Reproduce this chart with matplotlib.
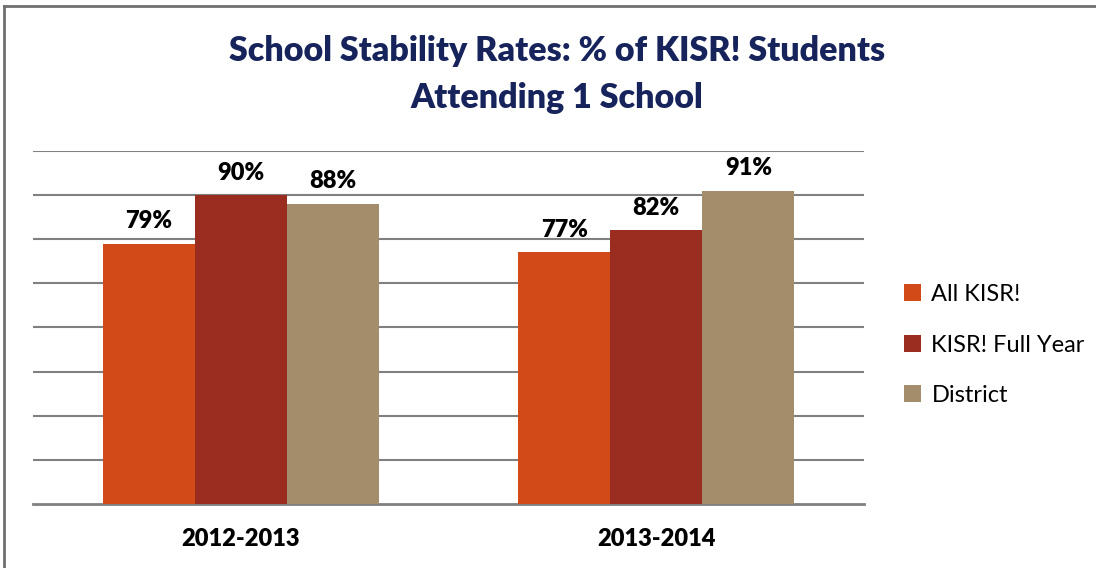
import matplotlib
matplotlib.use('Agg')
import matplotlib.pyplot as plt
from matplotlib.lines import Line2D
import numpy as np

# data
years = ['2012-2013', '2013-2014']
series_names = ['All KISR!', 'KISR! Full Year', 'District']
all_kisr = [79, 77]
full_year = [90, 82]
district = [88, 91]
colors = ['#D24A18', '#9A2C20', '#A48D6B']

plt.rcParams['font.family'] = ['Lato', 'DejaVu Sans']

fig = plt.figure(figsize=(10.96, 5.68), dpi=100)
ax = fig.add_axes([33 / 1096, 1 - 504 / 568, (864 - 33) / 1096, (504 - 151) / 568])

x = np.arange(len(years))
w = 0.2215
for i, (vals, name) in enumerate(zip([all_kisr, full_year, district], series_names)):
    pos = x + (i - 1) * w
    ax.bar(pos, vals, width=w, color=colors[i], label=name, zorder=3)
    for p, v in zip(pos, vals):
        ax.text(p, v + 2.6, f'{v}%', ha='center', va='bottom',
                fontsize=17, fontweight='heavy', color='black')

ax.set_xlim(-0.5, 1.5)
ax.set_ylim(20, 100)
ax.set_yticks(np.arange(30, 101, 10))
ax.yaxis.grid(True, color='#808080', linewidth=1.5, zorder=0)
ax.set_yticklabels([])
ax.tick_params(axis='y', length=0)
ax.set_xticks(x)
ax.set_xticklabels(years, fontsize=17, fontweight='heavy')
ax.tick_params(axis='x', length=0, pad=17)
for s in ['top', 'right', 'left']:
    ax.spines[s].set_visible(False)
ax.spines['bottom'].set_color('#808080')
ax.spines['bottom'].set_linewidth(2)

title_kw = dict(ha='center', va='center', fontsize=24.5, fontweight='heavy', color='#17245C')
fig.text(557 / 1096, 1 - 51 / 568, 'School Stability Rates: % of KISR! Students', **title_kw)
fig.text(557 / 1096, 1 - 98 / 568, 'Attending 1 School', **title_kw)

fig.legend(loc='center left', bbox_to_anchor=(883 / 1096, 1 - 345 / 568),
           frameon=False, fontsize=17, handlelength=0.7, handleheight=0.7,
           handletextpad=0.45, labelspacing=1.25)

# frame around chart (top and left visible)
fig.add_artist(Line2D([4 / 1096, 4 / 1096], [0, 1 - 6 / 568], transform=fig.transFigure,
                      color='#707070', linewidth=2))
fig.add_artist(Line2D([4 / 1096, 1], [1 - 6 / 568, 1 - 6 / 568], transform=fig.transFigure,
                      color='#707070', linewidth=2))

fig.savefig('out.png', dpi=100)
